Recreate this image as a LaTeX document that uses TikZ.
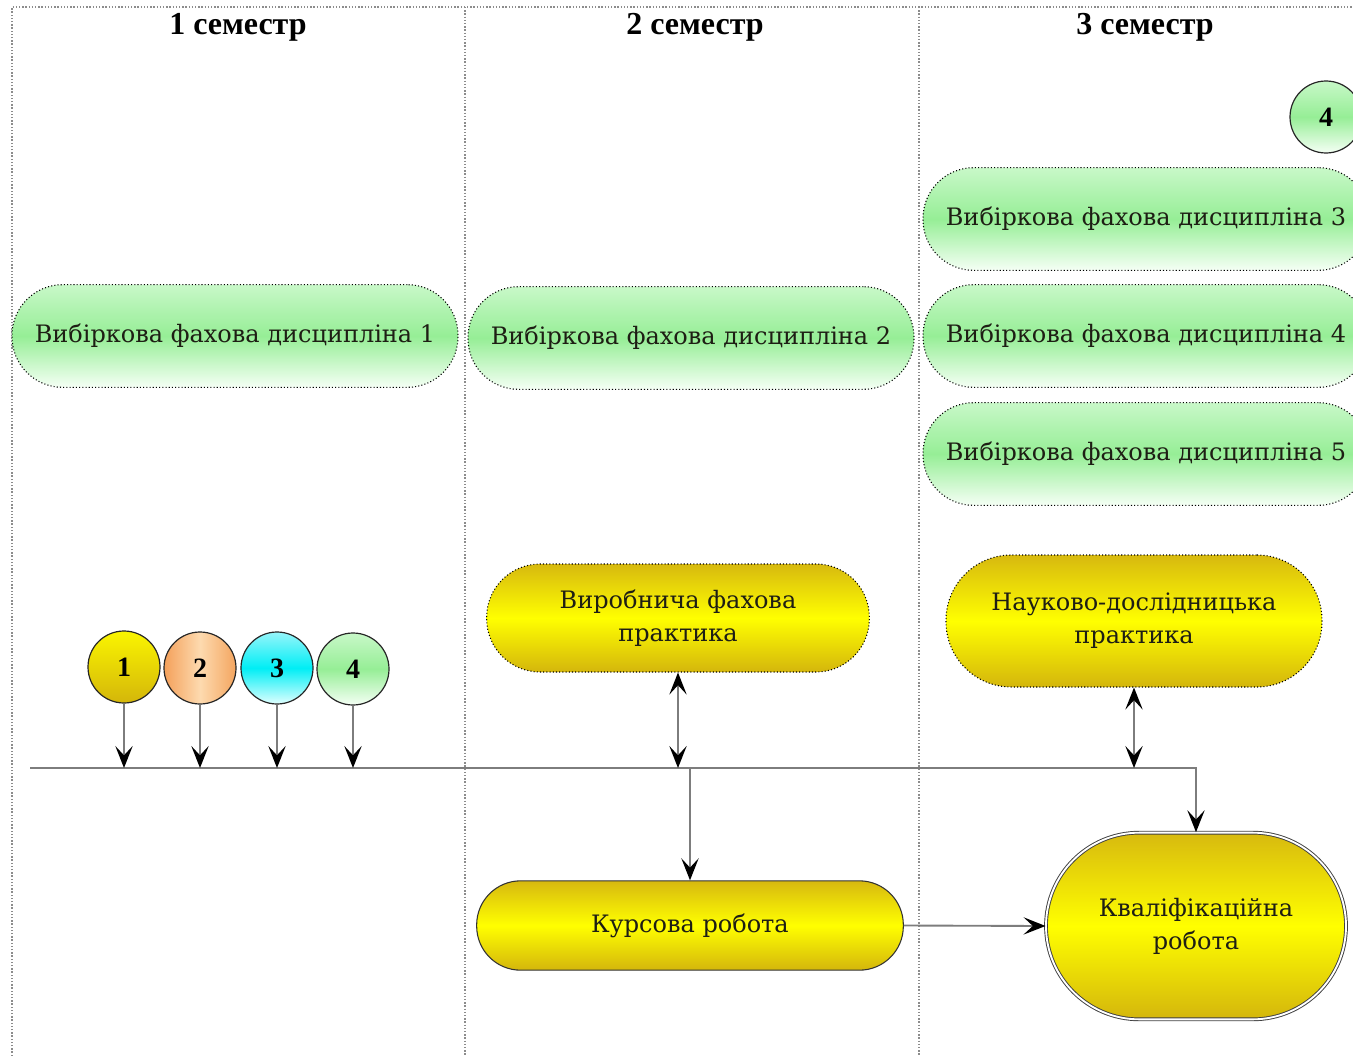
\documentclass[tikz,border=0pt]{standalone}
\usepackage{fontspec}
\setmainfont{DejaVu Serif}
\newfontfamily\hdrfont{Liberation Serif}
\usetikzlibrary{arrows.meta}
\definecolor{gTop}{RGB}{200,248,200}
\definecolor{gMid}{RGB}{150,238,150}
\definecolor{gBot}{RGB}{245,255,245}
\definecolor{yTop}{RGB}{215,185,15}
\definecolor{yMid}{RGB}{255,255,0}
\definecolor{yBot}{RGB}{212,182,12}
\definecolor{lineGray}{RGB}{125,125,125}
\definecolor{frameGray}{RGB}{140,140,140}
\definecolor{txt}{RGB}{30,30,20}
\tikzset{
  frame/.style={draw=frameGray, line width=1.1pt, dash pattern=on 1pt off 1.4pt},
  hdr/.style={font=\hdrfont\bfseries\fontsize{24}{28}\selectfont, text=black},
  boxtext/.style={font=\fontsize{18}{24.75}\selectfont, text=txt, align=center},
  greenshade/.style={top color=gTop, bottom color=gBot, middle color=gMid},
  yellowshade/.style={top color=yTop, bottom color=yBot, middle color=yMid},
  greenpill/.style={boxtext, draw=black, line width=0.8pt, dash pattern=on 0.8pt off 1.6pt,
    rounded corners=38pt, minimum width=334.5pt, minimum height=77pt, greenshade},
  yellowbox/.style={boxtext, yellowshade},
  dotborder/.style={draw=black, line width=0.8pt, dash pattern=on 0.8pt off 1.6pt},
  numcirc/.style={circle, draw=black!85, line width=0.9pt, minimum size=54pt, inner sep=0pt,
    font=\hdrfont\bfseries\fontsize{21}{24}\selectfont, text=black},
  conn/.style={draw=lineGray, line width=1.4pt},
}
\begin{document}
\begin{tikzpicture}[x=0.75pt,y=-0.75pt,
  >={Stealth[length=16.5pt,width=13pt,inset=7pt,color=black]}]
\useasboundingbox (0,0) rectangle (1353,1056);
\fill[white] (0,0) rectangle (1353,1056);
% frame and column separators
\draw[frame] (12,1056) -- (12,7) -- (1353,7);
\draw[frame] (465,7) -- (465,1056);
\draw[frame] (919,7) -- (919,1056);
% headers
\node[hdr] (h1) at (238,27) {1 семестр};
\node[hdr] (h2) at (695,27) {2 семестр};
\node[hdr] (h3) at (1145,27) {3 семестр};
% elective disciplines
\node[greenpill] (d1) at (235,336) {Вибіркова фахова дисципліна 1};
\node[greenpill] (d2) at (691,338) {Вибіркова фахова дисципліна 2};
\node[greenpill] (d3) at (1146,219) {Вибіркова фахова дисципліна 3};
\node[greenpill] (d4) at (1146,336) {Вибіркова фахова дисципліна 4};
\node[greenpill] (d5) at (1146,454) {Вибіркова фахова дисципліна 5};
% circles
\node[numcirc, greenshade] (t4) at (1326,117) {4};
\node[numcirc, top color={rgb,255:red,250;green,245;blue,0}, bottom color={rgb,255:red,212;green,182;blue,10}] (c1) at (124,667) {1};
\node[numcirc, shading angle=45, left color={rgb,255:red,244;green,160;blue,90}, right color={rgb,255:red,244;green,165;blue,95}, middle color={rgb,255:red,253;green,218;blue,175}] (c2) at (200,668) {2};
\node[numcirc, top color={rgb,255:red,150;green,245;blue,250}, bottom color={rgb,255:red,225;green,255;blue,255}, middle color={rgb,255:red,0;green,238;blue,245}] (c3) at (277,668) {3};
\node[numcirc, greenshade] (c4) at (353,669) {4};
% yellow boxes
\node[yellowbox, dotborder, rounded corners=40pt, minimum width=287pt, minimum height=81pt] (vyr) at (678,618) {Виробнича фахова\\практика};
\node[yellowbox, dotborder, rounded corners=49pt, minimum width=282pt, minimum height=99pt] (nauk) at (1134,621) {Науково-дослідницька\\практика};
\node[yellowbox, draw=black!80, line width=0.8pt, rounded corners=33pt, minimum width=320pt, minimum height=67pt] (kurs) at (690,925.5) {Курсова робота};
\node[yellowbox, draw=black!75, line width=0.7pt, double=white, double distance=1.4pt, rounded corners=70pt, minimum width=225pt, minimum height=140pt] (qual) at (1196,926) {Кваліфікаційна\\робота};
% bus line
\coordinate (busL) at (30,768);
\draw[conn,->] (busL) -| (qual.north);
\foreach \c in {c1,c2,c3,c4}{\draw[conn,->] (\c) -- (\c |- busL);}
\draw[conn,<->] (vyr) -- (vyr |- busL);
\draw[conn,<->] (nauk) -- (nauk |- busL);
\draw[conn,->] (kurs.north |- busL) -- (kurs.north);
\draw[conn,->] (kurs.east) -- (qual.west);
\end{tikzpicture}
\end{document}
